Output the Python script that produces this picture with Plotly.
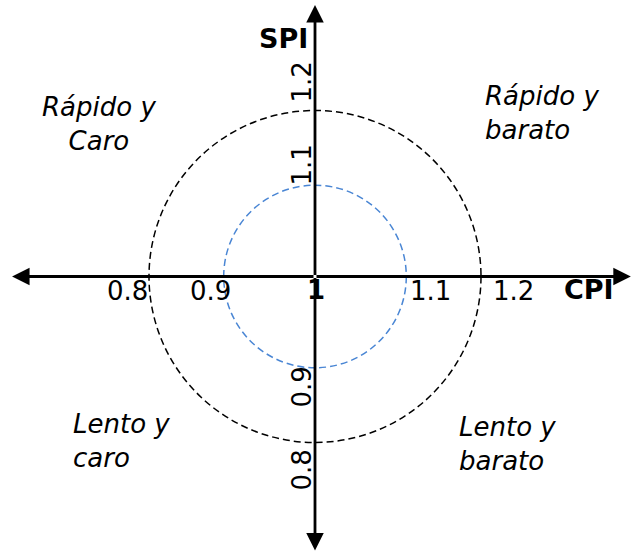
import plotly.graph_objects as go

# Axis values around the (CPI=1, SPI=1) origin
center = 1.0
cpi_ticks = [0.8, 0.9, 1.1, 1.2]
spi_ticks = [0.8, 0.9, 1.1, 1.2]
tick_labels = ["0.8", "0.9", "1.1", "1.2"]

# Tolerance circles around the origin (radius in index units)
circle_radii = [0.2, 0.11]
circle_colors = ["#000000", "#4a86d4"]

# Quadrant descriptions
quadrant_texts = ["Rápido y<br>Caro", "Rápido y<br>barato",
                  "Lento y<br>caro", "Lento y<br>barato"]
quadrant_x = [0.740, 1.2030, 0.7066, 1.1705]
quadrant_y = [1.2245, 1.2377, 0.8426, 0.839]
quadrant_anchor = ["center", "left", "left", "left"]

FONT = "Verdana, 'DejaVu Sans', sans-serif"
X_RANGE = [0.62048, 1.38072]
Y_RANGE = [0.66928, 1.33313]

fig = go.Figure()
fig.add_trace(go.Scatter(x=[center], y=[center], mode="markers",
                         marker=dict(size=1, opacity=0), hoverinfo="skip",
                         showlegend=False))

# dashed circles
for r, col in zip(circle_radii, circle_colors):
    fig.add_shape(type="circle", xref="x", yref="y",
                  x0=center - r, x1=center + r, y0=center - r, y1=center + r,
                  line=dict(color=col, width=1.5, dash="7px,4px"))

annotations = []

# axis lines with arrowheads, drawn outward from the origin
axis_ends = [(0.6350, center), (1.3805, center), (center, 1.3270), (center, 0.6700)]
for ex, ey in axis_ends:
    annotations.append(dict(x=ex, y=ey, ax=center, ay=center, xref="x", yref="y",
                            axref="x", ayref="y", text="", showarrow=True,
                            arrowhead=2, arrowsize=1.25, arrowwidth=2.8,
                            arrowcolor="#000000"))

# CPI tick labels
for v, lab in zip(cpi_ticks, tick_labels):
    annotations.append(dict(x=v, y=center, xref="x", yref="y", text=lab,
                            showarrow=False, xanchor="center", yanchor="middle",
                            xshift=-22 if v < center else 32, yshift=-14.5,
                            font=dict(family=FONT, size=26, color="#000")))

# SPI tick labels (rotated)
for v, lab in zip(spi_ticks, tick_labels):
    annotations.append(dict(x=center, y=v, xref="x", yref="y", text=lab,
                            showarrow=False, xanchor="center", yanchor="middle",
                            textangle=-90, xshift=-14,
                            yshift=28 if v > center else -28,
                            font=dict(family=FONT, size=26, color="#000")))

# origin label and axis titles
annotations.append(dict(x=center, y=center, xref="x", yref="y", text="<b>1</b>",
                        showarrow=False, xanchor="center", yanchor="middle",
                        xshift=1, yshift=-13.5,
                        font=dict(family=FONT, size=26, color="#000")))
annotations.append(dict(x=1.3301, y=center, xref="x", yref="y", text="<b>CPI</b>",
                        showarrow=False, xanchor="center", yanchor="middle",
                        yshift=-12.5, font=dict(family=FONT, size=27, color="#000")))
annotations.append(dict(x=center, y=1.2867, xref="x", yref="y", text="<b>SPI</b>",
                        showarrow=False, xanchor="center", yanchor="middle",
                        xshift=-32, font=dict(family=FONT, size=27, color="#000")))

# quadrant descriptions
for t, qx, qy, anc in zip(quadrant_texts, quadrant_x, quadrant_y, quadrant_anchor):
    annotations.append(dict(x=qx, y=qy, xref="x", yref="y",
                            text="<i>" + t.replace("<br>", "</i><br><i>") + "</i>",
                            showarrow=False, xanchor=anc, yanchor="top", align=anc,
                            font=dict(family=FONT, size=26, color="#000")))

fig.update_layout(
    width=631, height=551,
    margin=dict(l=0, r=0, t=0, b=0),
    paper_bgcolor="white", plot_bgcolor="white",
    xaxis=dict(range=X_RANGE, visible=False, fixedrange=True),
    yaxis=dict(range=Y_RANGE, visible=False, fixedrange=True),
    annotations=annotations,
    showlegend=False,
)

fig.write_html("out.html", config={"displayModeBar": False})
